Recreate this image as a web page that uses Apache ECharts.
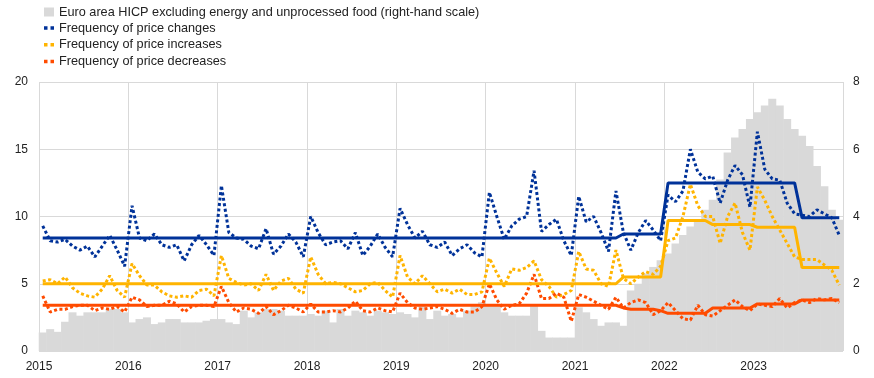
<!DOCTYPE html>
<html>
<head>
<meta charset="utf-8">
<script src="https://cdn.jsdelivr.net/npm/echarts/dist/echarts.min.js"></script>
<style>
  html, body { margin: 0; padding: 0; background: #fff; }
  #chart { width: 874px; height: 378px; }
</style>
</head>
<body>
<div id="chart"></div>
<script>
// tick labels (one per year, Jan 2015 .. Jan 2024 gridlines)
const yearLabels = ['2015', '2016', '2017', '2018', '2019', '2020', '2021', '2022', '2023']

// monthly values, Jan 2015 - Dec 2023, one row per year
// Euro area HICP excl. energy and unprocessed food (right-hand scale)
const hicp = [
  0.55, 0.65, 0.57, 0.87, 1.15, 1.05, 1.15, 1.15, 1.15, 1.25, 1.25, 1.15,
  0.85, 0.95, 1.0, 0.8, 0.85, 0.95, 0.95, 0.85, 0.85, 0.85, 0.9, 0.95,
  0.95, 0.85, 0.8, 1.2, 1.0, 1.15, 1.25, 1.25, 1.2, 1.05, 1.05, 1.05,
  1.1, 1.05, 1.2, 0.85, 1.25, 1.05, 1.2, 1.15, 1.05, 1.2, 1.15, 1.1,
  1.15, 1.1, 1.0, 1.35, 0.95, 1.2, 1.05, 1.1, 1.0, 1.2, 1.35, 1.45,
  1.35, 1.35, 1.15, 1.05, 1.05, 1.05, 1.35, 0.6, 0.4, 0.4, 0.4, 0.4,
  1.3, 1.15, 0.95, 0.75, 0.85, 0.85, 0.75, 1.8, 2.0, 2.3, 2.5, 2.7,
  2.9, 3.2, 3.45, 3.7, 3.9, 4.2, 4.5, 5.1, 5.9, 6.35, 6.6, 6.9,
  7.1, 7.3, 7.5, 7.3, 6.9, 6.6, 6.4, 6.1, 5.5, 4.9, 4.2, 3.9
]
// frequency of price changes
const freqChanges = [
  9.3, 8.2, 8.1, 8.3, 7.8, 7.5, 7.8, 7.0, 7.8, 8.6, 7.5, 6.3,
  10.8, 8.4, 8.2, 8.7, 7.9, 7.7, 7.9, 6.7, 7.9, 8.6, 7.9, 7.1,
  12.3, 8.8, 8.4, 8.3, 7.8, 7.6, 9.1, 7.2, 7.8, 8.7, 8.1, 7.0,
  10.0, 8.8, 7.9, 8.1, 8.2, 7.6, 8.8, 7.1, 7.8, 8.7, 7.7, 7.0,
  10.6, 9.4, 8.4, 8.9, 7.9, 7.7, 8.1, 7.1, 7.6, 7.9, 7.3, 7.0,
  11.8, 10.0, 8.3, 9.3, 9.8, 10.0, 13.4, 8.9, 9.4, 9.8, 8.2, 7.1,
  11.5, 9.6, 10.0, 8.8, 7.4, 11.9, 8.8, 7.5, 8.8, 9.7, 9.0, 8.2,
  11.6, 11.1, 11.9, 15.0, 13.3, 12.8, 13.0, 11.0, 12.7, 13.8, 13.1, 10.7,
  16.3, 13.5, 12.8, 12.7, 11.0, 10.2, 10.1, 10.0, 10.5, 10.2, 9.9, 8.6
]
// frequency of price increases
const freqIncreases = [
  5.2, 5.3, 5.0, 5.5, 4.7, 4.3, 4.1, 4.0, 4.6, 5.6, 4.5, 4.0,
  6.5, 5.6, 4.9, 4.9, 4.4, 4.1, 4.0, 4.1, 4.0, 4.5, 4.6, 4.1,
  7.1, 5.4, 5.1, 4.9, 5.0, 4.5, 5.7, 4.5, 5.2, 5.4, 4.6, 4.3,
  7.0, 5.7, 5.0, 5.1, 5.0, 4.7, 4.4, 4.5, 5.0, 5.1, 4.5, 4.0,
  7.1, 5.5, 5.0, 5.6, 5.0, 4.4, 4.6, 4.3, 4.6, 4.2, 4.2, 4.4,
  6.9, 5.8, 4.8, 6.1, 6.0, 6.2, 6.7, 5.3, 4.8, 4.0, 4.2, 4.5,
  7.4, 6.1, 6.0, 5.0, 4.8, 7.5, 5.4, 5.0, 5.5, 5.9, 5.7, 6.3,
  8.2, 8.4, 10.0, 12.4, 10.8, 10.0, 10.0, 8.0, 10.0, 11.0, 8.8, 7.5,
  12.2, 11.2, 10.0, 9.0, 8.0, 7.0, 6.8, 6.8, 6.8, 6.4, 6.0, 4.9
]
// frequency of price decreases
const freqDecreases = [
  4.1, 2.9, 3.1, 3.1, 3.3, 3.4, 3.4, 3.0, 3.2, 3.1, 3.3, 2.9,
  4.0, 3.8, 3.3, 3.4, 3.4, 3.7, 3.5, 2.9, 3.3, 3.4, 3.4, 3.3,
  4.8, 3.6, 2.9, 3.2, 3.1, 2.8, 3.3, 2.7, 3.0, 3.4, 3.2, 2.9,
  3.5, 2.9, 2.9, 3.0, 2.9, 3.2, 3.7, 3.0, 2.9, 3.2, 3.0, 2.9,
  4.3, 3.6, 3.2, 3.1, 3.2, 3.3, 3.1, 2.8, 3.1, 2.9, 2.9, 3.3,
  5.0, 3.8, 3.1, 3.4, 3.5, 4.3, 5.7, 3.9, 3.9, 4.3, 4.0, 2.2,
  4.2, 4.0, 3.7, 3.4, 3.1, 4.0, 3.2, 3.6, 3.8, 3.6, 2.7, 3.0,
  3.6, 3.0, 2.4, 2.3, 3.4, 2.7, 2.6, 3.0, 3.4, 3.8, 3.3, 3.0,
  3.5, 3.4, 3.3, 3.9, 3.2, 3.6, 3.8, 3.6, 3.9, 3.8, 3.9, 3.6
]
// period averages (solid lines)
const avgChanges = [
  8.4, 8.4, 8.4, 8.4, 8.4, 8.4, 8.4, 8.4, 8.4, 8.4, 8.4, 8.4,
  8.4, 8.4, 8.4, 8.4, 8.4, 8.4, 8.4, 8.4, 8.4, 8.4, 8.4, 8.4,
  8.4, 8.4, 8.4, 8.4, 8.4, 8.4, 8.4, 8.4, 8.4, 8.4, 8.4, 8.4,
  8.4, 8.4, 8.4, 8.4, 8.4, 8.4, 8.4, 8.4, 8.4, 8.4, 8.4, 8.4,
  8.4, 8.4, 8.4, 8.4, 8.4, 8.4, 8.4, 8.4, 8.4, 8.4, 8.4, 8.4,
  8.4, 8.4, 8.4, 8.4, 8.4, 8.4, 8.4, 8.4, 8.4, 8.4, 8.4, 8.4,
  8.4, 8.4, 8.4, 8.4, 8.4, 8.4, 8.7, 8.7, 8.7, 8.7, 8.7, 8.7,
  12.5, 12.5, 12.5, 12.5, 12.5, 12.5, 12.5, 12.5, 12.5, 12.5, 12.5, 12.5,
  12.5, 12.5, 12.5, 12.5, 12.5, 12.5, 9.9, 9.9, 9.9, 9.9, 9.9, 9.9
]
const avgIncreases = [
  5.0, 5.0, 5.0, 5.0, 5.0, 5.0, 5.0, 5.0, 5.0, 5.0, 5.0, 5.0,
  5.0, 5.0, 5.0, 5.0, 5.0, 5.0, 5.0, 5.0, 5.0, 5.0, 5.0, 5.0,
  5.0, 5.0, 5.0, 5.0, 5.0, 5.0, 5.0, 5.0, 5.0, 5.0, 5.0, 5.0,
  5.0, 5.0, 5.0, 5.0, 5.0, 5.0, 5.0, 5.0, 5.0, 5.0, 5.0, 5.0,
  5.0, 5.0, 5.0, 5.0, 5.0, 5.0, 5.0, 5.0, 5.0, 5.0, 5.0, 5.0,
  5.0, 5.0, 5.0, 5.0, 5.0, 5.0, 5.0, 5.0, 5.0, 5.0, 5.0, 5.0,
  5.0, 5.0, 5.0, 5.0, 5.0, 5.0, 5.5, 5.5, 5.5, 5.5, 5.5, 5.5,
  9.7, 9.7, 9.7, 9.7, 9.7, 9.7, 9.4, 9.4, 9.4, 9.4, 9.4, 9.4,
  9.2, 9.2, 9.2, 9.2, 9.2, 9.2, 6.2, 6.2, 6.2, 6.2, 6.2, 6.2
]
const avgDecreases = [
  3.4, 3.4, 3.4, 3.4, 3.4, 3.4, 3.4, 3.4, 3.4, 3.4, 3.4, 3.4,
  3.4, 3.4, 3.4, 3.4, 3.4, 3.4, 3.4, 3.4, 3.4, 3.4, 3.4, 3.4,
  3.4, 3.4, 3.4, 3.4, 3.4, 3.4, 3.4, 3.4, 3.4, 3.4, 3.4, 3.4,
  3.4, 3.4, 3.4, 3.4, 3.4, 3.4, 3.4, 3.4, 3.4, 3.4, 3.4, 3.4,
  3.4, 3.4, 3.4, 3.4, 3.4, 3.4, 3.4, 3.4, 3.4, 3.4, 3.4, 3.4,
  3.4, 3.4, 3.4, 3.4, 3.4, 3.4, 3.4, 3.4, 3.4, 3.4, 3.4, 3.4,
  3.4, 3.4, 3.4, 3.4, 3.4, 3.4, 3.2, 3.1, 3.1, 3.1, 3.1, 3.0,
  2.8, 2.8, 2.8, 2.8, 2.8, 2.8, 3.2, 3.2, 3.2, 3.2, 3.2, 3.2,
  3.5, 3.5, 3.5, 3.5, 3.5, 3.5, 3.8, 3.8, 3.8, 3.8, 3.8, 3.8
]

const NAME_HICP = 'Euro area HICP excluding energy and unprocessed food (right-hand scale)'
const NAME_CHG = 'Frequency of price changes'
const NAME_INC = 'Frequency of price increases'
const NAME_DEC = 'Frequency of price decreases'

const BLUE = '#003299'
const YELLOW = '#ffb400'
const ORANGE = '#ff4b00'
const GREY = '#d9d9d9'
const FONT = 'Liberation Sans, Arial, sans-serif'

// each month sits in the middle of its slot on the x scale (0 = Jan 2015)
const toPoints = (arr) => arr.map((v, i) => [i + 0.5, v])

const dotIcon = 'path://M0,0h3.5v3.5h-3.5z M6.5,0h3.5v3.5h-3.5z'

function dotted(name, data, color) {
  return {
    type: 'line',
    name,
    data: toPoints(data),
    color,
    itemStyle: { color },
    showSymbol: false,
    symbol: 'none',
    silent: true,
    z: 3,
    lineStyle: { color, width: 3, type: [3, 2.5], cap: 'butt' }
  }
}

function solid(data, color) {
  return {
    type: 'line',
    data: toPoints(data),
    showSymbol: false,
    symbol: 'none',
    silent: true,
    z: 4,
    lineStyle: { color, width: 3 }
  }
}

const chart = echarts.init(document.getElementById('chart'), null, { renderer: 'canvas' })

const legendText = { fontFamily: FONT, fontSize: 12.7, color: '#222', lineHeight: 14 }

const option = {
  animation: false,
  backgroundColor: '#fff',
  textStyle: { fontFamily: FONT },
  grid: { left: 39, right: 31, top: 82, bottom: 27, containLabel: false },
  legend: [
    {
      orient: 'vertical',
      left: 39,
      top: 0,
      itemWidth: 10,
      itemHeight: 9,
      selectedMode: false,
      textStyle: legendText,
      data: [{ name: NAME_HICP, icon: 'rect' }]
    },
    {
      orient: 'vertical',
      left: 39,
      top: 16,
      itemWidth: 10,
      itemHeight: 3.5,
      itemGap: 2.7,
      selectedMode: false,
      textStyle: legendText,
      data: [
        { name: NAME_CHG, icon: dotIcon },
        { name: NAME_INC, icon: dotIcon },
        { name: NAME_DEC, icon: dotIcon }
      ]
    }
  ],
  xAxis: {
    type: 'value',
    min: 0,
    max: 108,
    interval: 12,
    axisLine: { show: false },
    axisTick: { show: false },
    axisLabel: {
      margin: 10,
      fontFamily: FONT,
      fontSize: 12,
      color: '#222',
      formatter: (v) => yearLabels[v / 12] || ''
    },
    splitLine: { show: true, lineStyle: { color: GREY, width: 1 } }
  },
  yAxis: [
    {
      type: 'value',
      min: 0,
      max: 20,
      interval: 5,
      axisLine: { show: false },
      axisTick: { show: false },
      axisLabel: { margin: 11, fontFamily: FONT, fontSize: 12, color: '#222' },
      splitLine: { show: true, lineStyle: { color: GREY, width: 1 } }
    },
    {
      type: 'value',
      min: 0,
      max: 8,
      interval: 2,
      position: 'right',
      axisLine: { show: false },
      axisTick: { show: false },
      axisLabel: { margin: 10, fontFamily: FONT, fontSize: 12, color: '#222' },
      splitLine: { show: false }
    }
  ],
  series: [
    {
      type: 'bar',
      name: NAME_HICP,
      yAxisIndex: 1,
      data: toPoints(hicp),
      barWidth: 8,
      color: GREY,
      itemStyle: { color: GREY },
      silent: true,
      z: 1
    },
    dotted(NAME_CHG, freqChanges, BLUE),
    dotted(NAME_INC, freqIncreases, YELLOW),
    dotted(NAME_DEC, freqDecreases, ORANGE),
    solid(avgChanges, BLUE),
    solid(avgIncreases, YELLOW),
    solid(avgDecreases, ORANGE)
  ]
}

chart.setOption(option)
</script>
</body>
</html>
